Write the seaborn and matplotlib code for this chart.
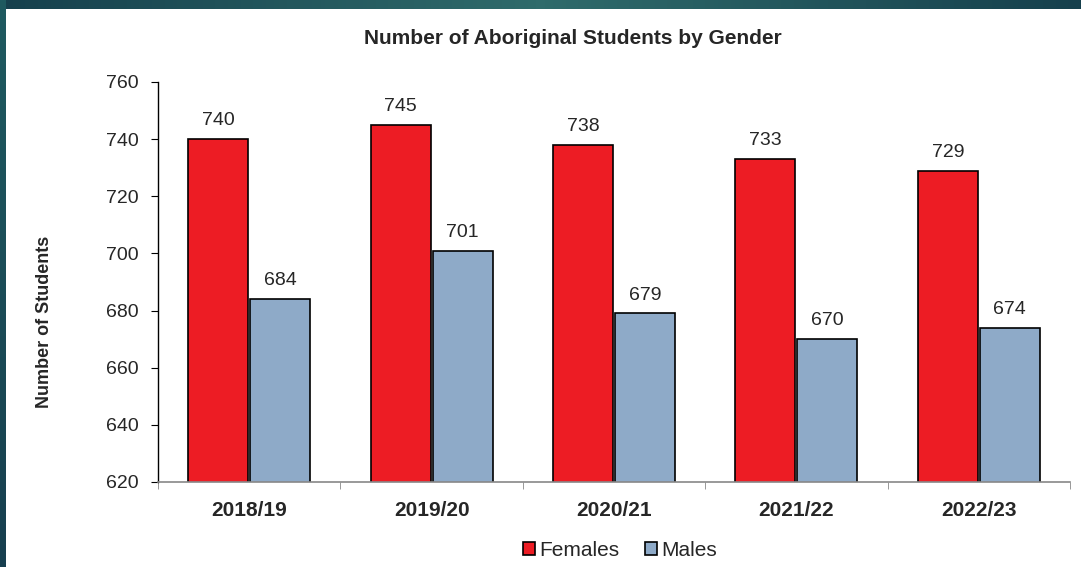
import numpy as np
import pandas as pd
import matplotlib.pyplot as plt
import seaborn as sns

years = ["2018/19", "2019/20", "2020/21", "2021/22", "2022/23"]
females = [740, 745, 738, 733, 729]
males = [684, 701, 679, 670, 674]
y_ticks = [620, 640, 660, 680, 700, 720, 740, 760]

df = pd.DataFrame({
    "Year": years * 2,
    "Gender": ["Females"] * len(years) + ["Males"] * len(years),
    "Students": females + males,
})

sns.set_style("white")
plt.rcParams["font.family"] = ["Liberation Sans", "DejaVu Sans"]

fig = plt.figure(figsize=(10.81, 5.67), dpi=100)

# teal frame on top and left edges
top = fig.add_axes([0, 1 - 9 / 567, 1, 9 / 567])
grad = np.linspace(0, 1, 256)
top_col = np.interp(grad, [0, 0.5, 1], [0.0, 1.0, 0.0])
top.imshow(top_col[None, :], aspect="auto", cmap=sns.blend_palette(["#16404d", "#2f6b6b"], as_cmap=True),
           extent=[0, 1, 0, 1])
top.axis("off")
left = fig.add_axes([0, 0, 6 / 1081, 1])
left.imshow(np.linspace(0, 1, 256)[:, None], aspect="auto",
            cmap=sns.blend_palette(["#1f5a60", "#173f4f"], as_cmap=True), extent=[0, 1, 0, 1])
left.axis("off")

ax = fig.add_axes([158 / 1081, 1 - 482 / 567, (1070 - 158) / 1081, (482 - 82) / 567])
sns.barplot(data=df, x="Year", y="Students", hue="Gender", order=years, hue_order=["Females", "Males"],
            palette=["#ED1C24", "#8EAAC8"], edgecolor="black", linewidth=1.2, width=0.68, gap=0.03,
            saturation=1, ax=ax, legend=False)

for cont in ax.containers:
    ax.bar_label(cont, padding=7, fontsize=14)

ax.set_ylim(620, 760)
ax.set_yticks(y_ticks)
ax.set_xlim(-0.5, 4.5)
ax.set_xticks(range(len(years)))
ax.set_xticklabels(years, fontsize=15, fontweight="bold")
ax.set_xticks(np.arange(-0.5, 5, 1), minor=True)
ax.tick_params(axis="x", which="major", length=0, pad=14)
ax.tick_params(axis="x", which="minor", length=5, color="#888888", direction="out", bottom=True)
ax.tick_params(axis="y", length=5, color="black", direction="out", left=True, labelsize=14, pad=9)
ax.set_xlabel("")
ax.set_ylabel("")
for s in ["top", "right"]:
    ax.spines[s].set_visible(False)
ax.spines["left"].set_color("black")
ax.spines["bottom"].set_color("#888888")
ax.spines["left"].set_linewidth(1)
ax.spines["bottom"].set_linewidth(1.2)

fig.text(45 / 1081, 1 - 322 / 567, "Number of Students", rotation=90, ha="center", va="center",
         fontsize=13, fontweight="bold")
fig.text(573 / 1081, 1 - 38 / 567, "Number of Aboriginal Students by Gender", ha="center", va="center",
         fontsize=15, fontweight="bold")

handles = [plt.Rectangle((0, 0), 1, 1, facecolor=c, edgecolor="black", linewidth=1.2)
           for c in ["#ED1C24", "#8EAAC8"]]
fig.legend(handles, ["Females", "Males"], loc="center", bbox_to_anchor=(620 / 1081, 1 - 550 / 567), ncol=2,
           frameon=False, fontsize=15, handlelength=0.6, handleheight=0.6, handletextpad=0.2,
           columnspacing=1.2)

fig.savefig("out.png", dpi=100)
